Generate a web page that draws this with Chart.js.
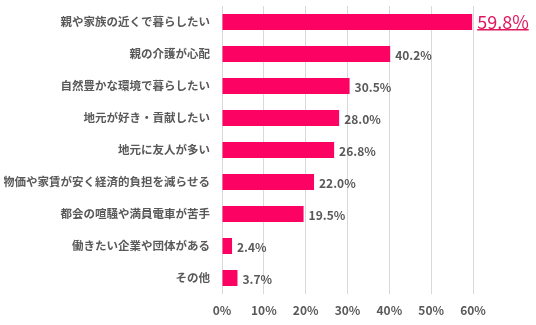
<!DOCTYPE html>
<html>
<head>
<meta charset="utf-8">
<script src="https://cdn.jsdelivr.net/npm/chart.js@4/dist/chart.umd.min.js"></script>
<style>
  html, body { margin: 0; padding: 0; background: #fff; }
  #wrap { width: 536px; height: 325px; position: relative; }
</style>
</head>
<body>
<div id="wrap"><canvas id="reasonChart"></canvas></div>
<script>
const categories = [
    '親や家族の近くで暮らしたい',
    '親の介護が心配',
    '自然豊かな環境で暮らしたい',
    '地元が好き・貢献したい',
    '地元に友人が多い',
    '物価や家賃が安く経済的負担を減らせる',
    '都会の喧騒や満員電車が苦手',
    '働きたい企業や団体がある',
    'その他'
];
const values = [59.8, 40.2, 30.5, 28.0, 26.8, 22.0, 19.5, 2.4, 3.7];
const xTicks = [0, 10, 20, 30, 40, 50, 60];

const fontFamily = '"Noto Sans CJK JP", "Noto Sans", sans-serif';

// draws the value labels next to each bar, the top one is highlighted
const valueLabels = {
    id: 'valueLabels',
    afterDatasetsDraw(chart) {
        const ctx = chart.ctx;
        const meta = chart.getDatasetMeta(0);
        ctx.save();
        ctx.textBaseline = 'middle';
        ctx.textAlign = 'left';
        meta.data.forEach(function (bar, i) {
            const txt = values[i].toFixed(1) + '%';
            const x = bar.x + 5;
            const y = bar.y;
            if (i === 0) {
                ctx.font = 'normal 18px ' + fontFamily;
                ctx.fillStyle = '#e2185f';
                ctx.fillText(txt, x, y);
                const w = ctx.measureText(txt).width;
                ctx.fillRect(x, y + 7, w, 1.5);
            } else {
                ctx.font = 'bold 12px ' + fontFamily;
                ctx.fillStyle = '#595959';
                ctx.fillText(txt, x, y + 1);
            }
        });
        ctx.restore();
    }
};

document.addEventListener("DOMContentLoaded", function () {
    const ctx = document.getElementById('reasonChart').getContext('2d');
    new Chart(ctx, {
        type: 'bar',
        data: {
            labels: categories,
            datasets: [{
                data: values,
                backgroundColor: '#fc0363',
                borderWidth: 0,
                categoryPercentage: 1.0,
                barPercentage: 0.5
            }]
        },
        options: {
            indexAxis: 'y',
            responsive: true,
            maintainAspectRatio: false,
            animation: false,
            layout: {
                padding: { left: 4, right: 63, top: 6, bottom: 8 }
            },
            plugins: {
                legend: { display: false },
                tooltip: { enabled: false }
            },
            scales: {
                x: {
                    min: 0,
                    max: 60,
                    afterBuildTicks: function (axis) {
                        axis.ticks = xTicks.map(function (v) { return { value: v }; });
                    },
                    afterFit: function (axis) {
                        axis.paddingLeft = 0;
                        axis.paddingRight = 0;
                        axis.height = 23;
                    },
                    grid: { color: '#d9d9d9', drawTicks: false, lineWidth: 1 },
                    border: { display: false },
                    ticks: {
                        padding: 9,
                        color: '#595959',
                        font: { family: fontFamily, size: 12, weight: 'bold' },
                        callback: function (v) { return v + '%'; }
                    }
                },
                y: {
                    afterFit: function (axis) {
                        axis.paddingTop = 0;
                        axis.paddingBottom = 0;
                        axis.width = 218;
                    },
                    grid: { display: false, drawTicks: false },
                    border: { display: false },
                    ticks: {
                        padding: 12,
                        color: '#595959',
                        font: { family: fontFamily, size: 11.5, weight: 'bold' }
                    }
                }
            }
        },
        plugins: [valueLabels]
    });
});
</script>
</body>
</html>
